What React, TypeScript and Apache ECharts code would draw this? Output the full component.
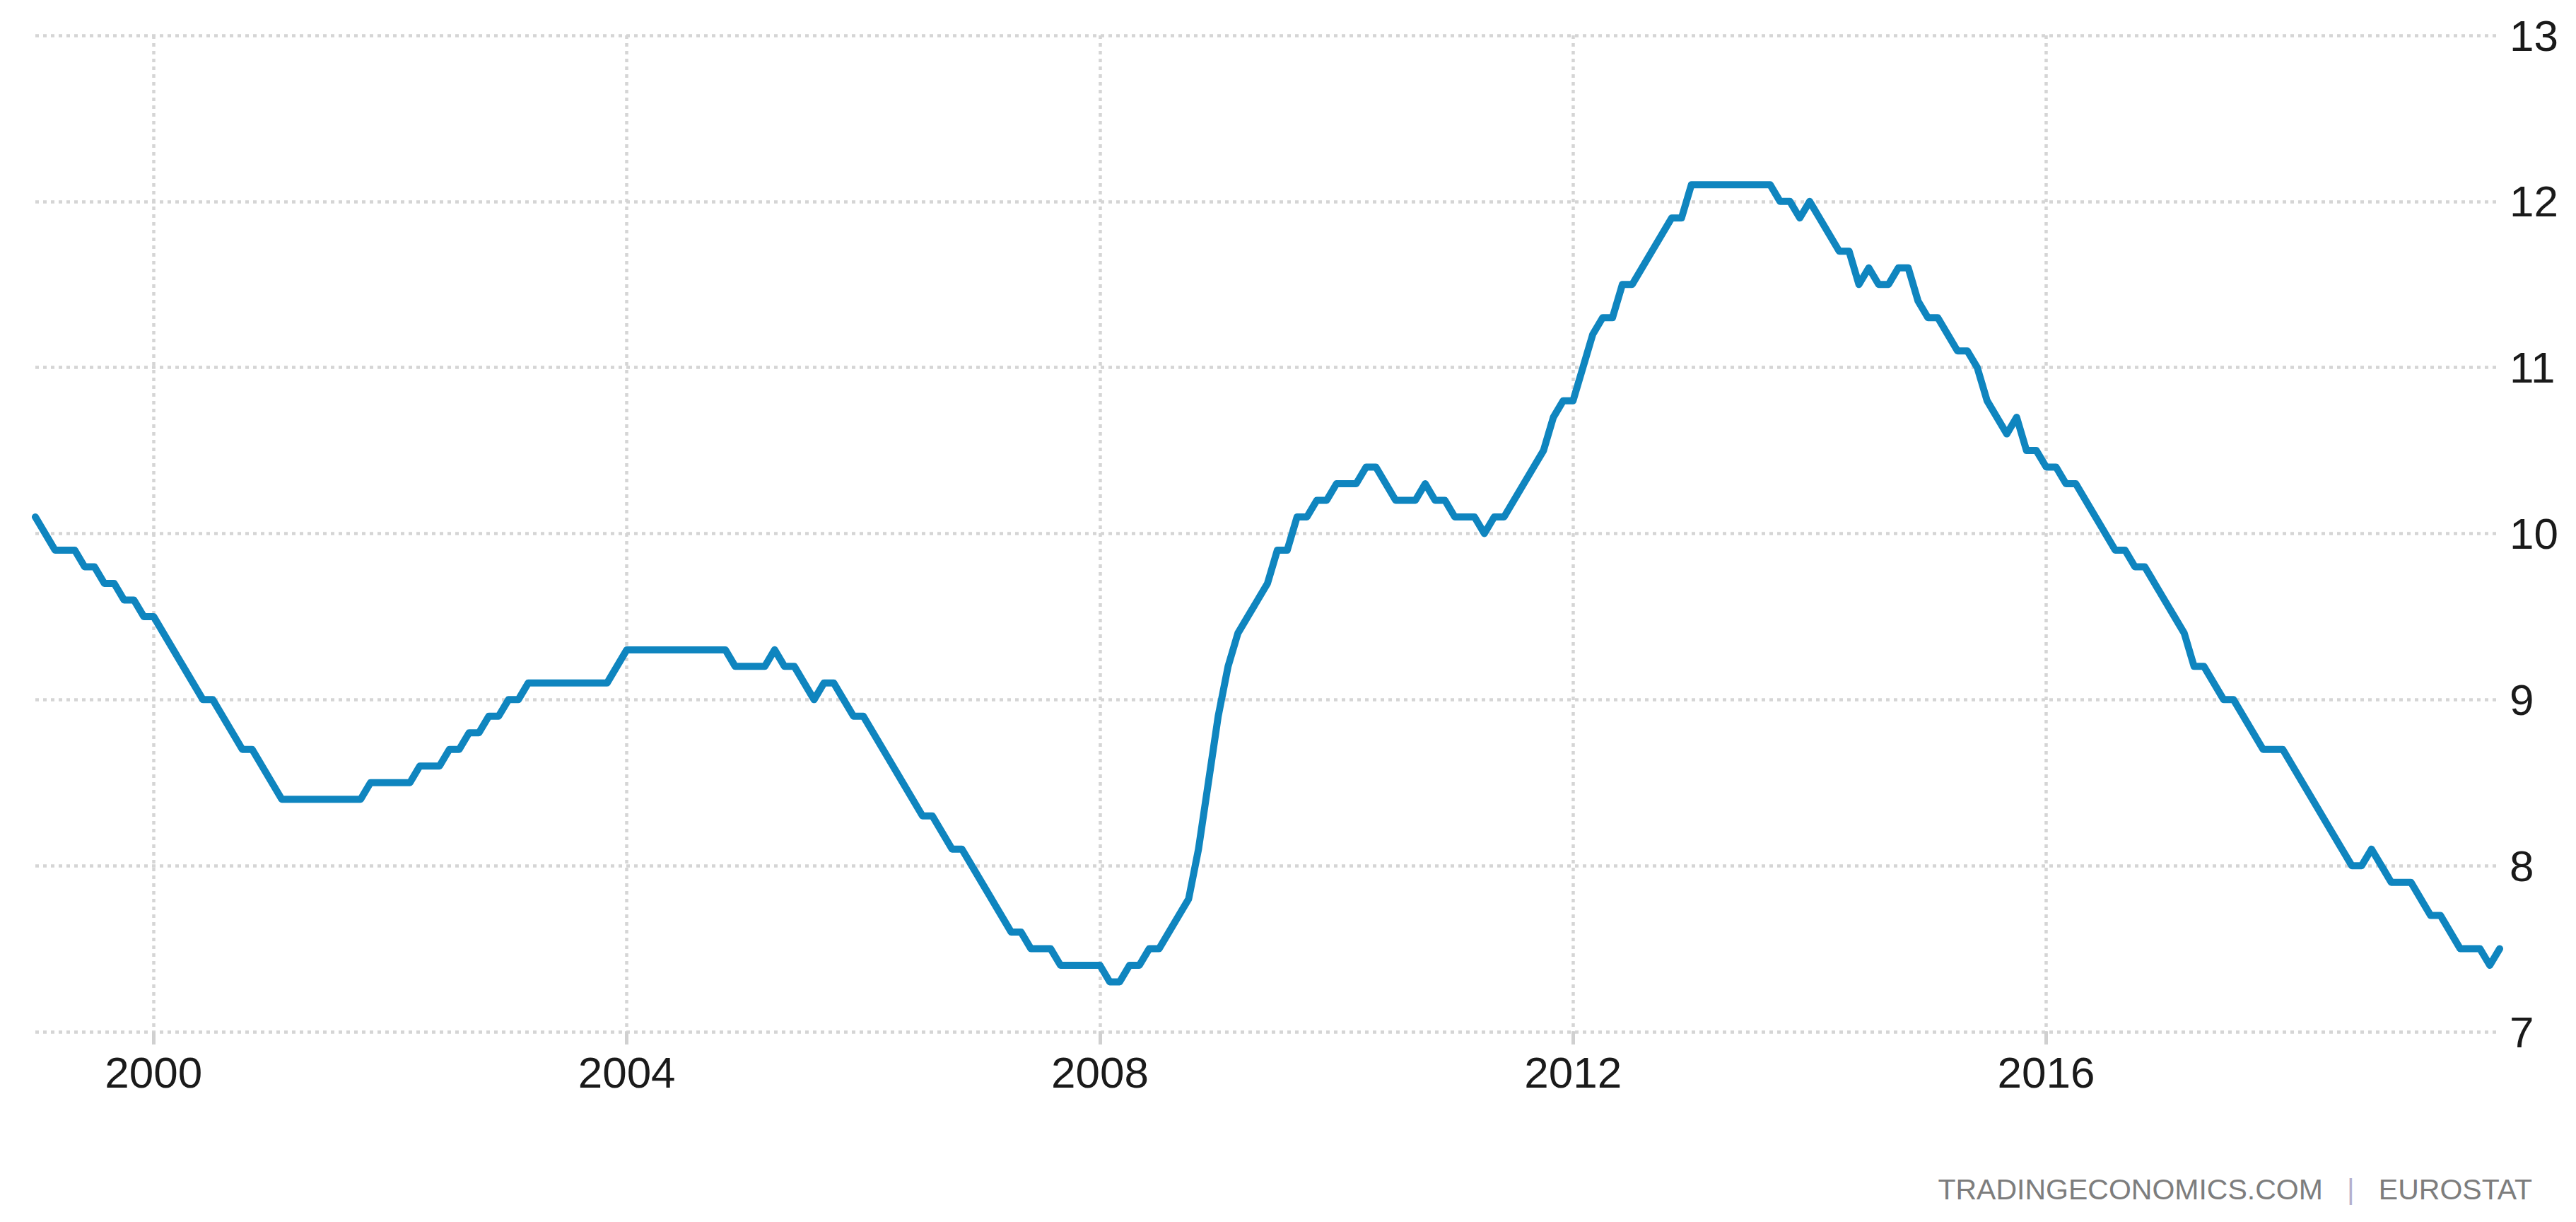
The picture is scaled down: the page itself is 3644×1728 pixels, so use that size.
import React, { useEffect, useRef } from 'react';
import * as echarts from 'echarts';

const u1999 = [10.1, 10.0, 9.9, 9.9, 9.9, 9.8, 9.8, 9.7, 9.7, 9.6, 9.6, 9.5];
const u2000 = [9.5, 9.4, 9.3, 9.2, 9.1, 9.0, 9.0, 8.9, 8.8, 8.7, 8.7, 8.6];
const u2001 = [8.5, 8.4, 8.4, 8.4, 8.4, 8.4, 8.4, 8.4, 8.4, 8.4, 8.5, 8.5];
const u2002 = [8.5, 8.5, 8.5, 8.6, 8.6, 8.6, 8.7, 8.7, 8.8, 8.8, 8.9, 8.9];
const u2003 = [9.0, 9.0, 9.1, 9.1, 9.1, 9.1, 9.1, 9.1, 9.1, 9.1, 9.1, 9.2];
const u2004 = [9.3, 9.3, 9.3, 9.3, 9.3, 9.3, 9.3, 9.3, 9.3, 9.3, 9.3, 9.2];
const u2005 = [9.2, 9.2, 9.2, 9.3, 9.2, 9.2, 9.1, 9.0, 9.1, 9.1, 9.0, 8.9];
const u2006 = [8.9, 8.8, 8.7, 8.6, 8.5, 8.4, 8.3, 8.3, 8.2, 8.1, 8.1, 8.0];
const u2007 = [7.9, 7.8, 7.7, 7.6, 7.6, 7.5, 7.5, 7.5, 7.4, 7.4, 7.4, 7.4];
const u2008 = [7.4, 7.3, 7.3, 7.4, 7.4, 7.5, 7.5, 7.6, 7.7, 7.8, 8.1, 8.5];
const u2009 = [8.9, 9.2, 9.4, 9.5, 9.6, 9.7, 9.9, 9.9, 10.1, 10.1, 10.2, 10.2];
const u2010 = [10.3, 10.3, 10.3, 10.4, 10.4, 10.3, 10.2, 10.2, 10.2, 10.3, 10.2, 10.2];
const u2011 = [10.1, 10.1, 10.1, 10.0, 10.1, 10.1, 10.2, 10.3, 10.4, 10.5, 10.7, 10.8];
const u2012 = [10.8, 11.0, 11.2, 11.3, 11.3, 11.5, 11.5, 11.6, 11.7, 11.8, 11.9, 11.9];
const u2013 = [12.1, 12.1, 12.1, 12.1, 12.1, 12.1, 12.1, 12.1, 12.1, 12.0, 12.0, 11.9];
const u2014 = [12.0, 11.9, 11.8, 11.7, 11.7, 11.5, 11.6, 11.5, 11.5, 11.6, 11.6, 11.4];
const u2015 = [11.3, 11.3, 11.2, 11.1, 11.1, 11.0, 10.8, 10.7, 10.6, 10.7, 10.5, 10.5];
const u2016 = [10.4, 10.4, 10.3, 10.3, 10.2, 10.1, 10.0, 9.9, 9.9, 9.8, 9.8, 9.7];
const u2017 = [9.6, 9.5, 9.4, 9.2, 9.2, 9.1, 9.0, 9.0, 8.9, 8.8, 8.7, 8.7];
const u2018 = [8.7, 8.6, 8.5, 8.4, 8.3, 8.2, 8.1, 8.0, 8.0, 8.1, 8.0, 7.9];
const u2019 = [7.9, 7.9, 7.8, 7.7, 7.7, 7.6, 7.5, 7.5, 7.5, 7.4, 7.5];

const yTicks = [7, 8, 9, 10, 11, 12, 13];
const labelYears = [2000, 2004, 2008, 2012, 2016];
const sourceLeft = 'TRADINGECONOMICS.COM';
const sourceRight = 'EUROSTAT';

const values: number[] = [
  ...u1999, ...u2000, ...u2001, ...u2002, ...u2003, ...u2004, ...u2005,
  ...u2006, ...u2007, ...u2008, ...u2009, ...u2010, ...u2011, ...u2012,
  ...u2013, ...u2014, ...u2015, ...u2016, ...u2017, ...u2018, ...u2019,
];

// monthly categories, one per value (Jan 1999 onward)
const months: string[] = values.map((_, i) => {
  const y = 1999 + Math.floor(i / 12);
  const m = (i % 12) + 1;
  return `${y}-${m < 10 ? '0' + m : m}`;
});

const FONT = "'Liberation Sans', Arial, sans-serif";

const isJanOf = (list: number[]) => (_i: number, v: string) =>
  v.slice(5) === '01' && list.includes(Number(v.slice(0, 4)));

const gridLine = { type: [5, 6] as any, color: '#d5d5d5', width: 4.5 };

export default function App() {
  const ref = useRef<HTMLDivElement>(null);
  useEffect(() => {
    document.body.style.margin = '0';
    const chart = echarts.init(ref.current!, undefined, { renderer: 'svg' });
    chart.setOption({
      animation: false,
      backgroundColor: '#ffffff',
      grid: { left: 50, right: 108, top: 50, bottom: 269, containLabel: false },
      xAxis: {
        type: 'category',
        data: months,
        boundaryGap: false,
        axisLine: { show: false },
        axisTick: {
          show: true,
          interval: isJanOf(labelYears),
          length: 18,
          lineStyle: { color: '#d0d0d0', width: 5 },
        },
        axisLabel: {
          interval: isJanOf(labelYears),
          formatter: (v: string) => v.slice(0, 4),
          margin: 26,
          fontSize: 62,
          color: '#1a1a1a',
          fontFamily: FONT,
        },
        splitLine: { show: true, interval: isJanOf(labelYears), lineStyle: gridLine },
      },
      yAxis: {
        type: 'value',
        position: 'right',
        min: yTicks[0],
        max: yTicks[yTicks.length - 1],
        interval: 1,
        axisLine: { show: false },
        axisTick: { show: false },
        axisLabel: { margin: 14, fontSize: 62, color: '#1a1a1a', fontFamily: FONT },
        splitLine: { show: true, lineStyle: gridLine },
      },
      series: [
        {
          type: 'line',
          data: values,
          symbol: 'none',
          showSymbol: false,
          lineStyle: { color: '#0f85bf', width: 10, join: 'round', cap: 'round' },
          itemStyle: { color: '#0f85bf' },
        },
      ],
      graphic: [
        {
          type: 'text',
          right: 62,
          top: 1661,
          style: {
            text: `{a|${sourceLeft}}   {b||}   {a|${sourceRight}}`,
            rich: {
              a: { fontSize: 41, fill: '#7d7d7d', fontFamily: FONT },
              b: { fontSize: 41, fill: '#b4b0cc', fontFamily: FONT },
            },
            fontSize: 41,
            fill: '#7d7d7d',
            fontFamily: FONT,
          },
        },
      ],
    });
    return () => chart.dispose();
  }, []);
  return <div ref={ref} style={{ width: 3644, height: 1728 }} />;
}
